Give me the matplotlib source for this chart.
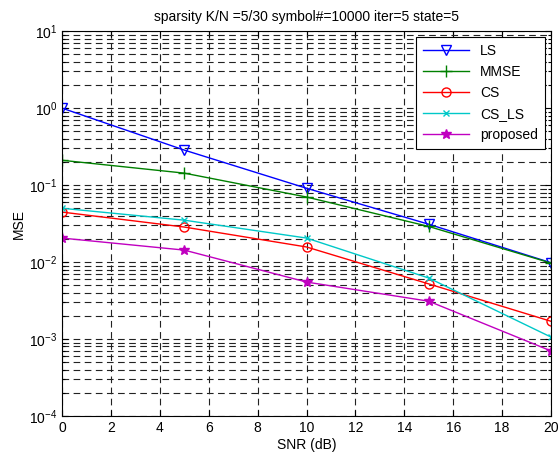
import matplotlib.pyplot as plt
import numpy as np
from matplotlib.ticker import LogLocator, NullFormatter, MultipleLocator

plt.rcParams['font.family'] = ['Liberation Sans', 'DejaVu Sans']

snr = [0, 5, 10, 15, 20]
mse_ls = [1.0, 0.285, 0.091, 0.031, 0.0098]
mse_mmse = [0.21, 0.143, 0.070, 0.029, 0.0097]
mse_cs = [0.0446, 0.0285, 0.0157, 0.0052, 0.0017]
mse_csls = [0.050, 0.035, 0.0205, 0.0062, 0.00106]
mse_prop = [0.0205, 0.0143, 0.0055, 0.0031, 0.0007]

fig = plt.figure(figsize=(5.6, 4.58), dpi=100)
ax = fig.add_axes([0.1107, 0.0917, 0.8733, 0.8403])

ax.semilogy(snr, mse_ls, color='b', marker='v', mfc='none', ms=7, lw=1, label='LS')
ax.semilogy(snr, mse_mmse, color='#008000', marker='+', ms=8, lw=1, label='MMSE')
ax.semilogy(snr, mse_cs, color='r', marker='o', mfc='none', ms=6.5, lw=1, label='CS')
ax.semilogy(snr, mse_csls, color='#00c8c8', marker='x', ms=4, lw=1, label='CS_LS')
ax.semilogy(snr, mse_prop, color='#c000c0', marker='*', ms=7, lw=1, label='proposed')

ax.set_xlim(0, 20)
ax.set_ylim(1e-4, 1e1)
ax.xaxis.set_major_locator(MultipleLocator(2))
ax.yaxis.set_major_locator(LogLocator(base=10, numticks=10))
ax.yaxis.set_minor_locator(LogLocator(base=10, subs=np.arange(2, 10), numticks=20))
ax.yaxis.set_minor_formatter(NullFormatter())

ax.grid(True, which='major', axis='both', color='#222222', linestyle=(0, (6, 4)), lw=0.8)
ax.grid(True, which='minor', axis='y', color='#222222', linestyle=(0, (6, 4)), lw=0.8)

ax.tick_params(which='both', direction='in', top=True, right=True, labelsize=10, width=0.8)
ax.tick_params(which='major', length=4)
ax.tick_params(which='minor', length=2)
for s in ax.spines.values():
    s.set_linewidth(0.8)

ax.set_xlabel('SNR (dB)', fontsize=10, labelpad=2)
ax.set_ylabel('MSE', fontsize=10, labelpad=2)
ax.set_title('sparsity K/N =5/30 symbol#=10000 iter=5 state=5', fontsize=10, pad=7)

leg = ax.legend(loc='upper right', fontsize=10, fancybox=False, framealpha=1,
                edgecolor='black', borderaxespad=0.45, handlelength=3.3,
                labelspacing=0.5, borderpad=0.5)
leg.get_frame().set_linewidth(0.8)

fig.savefig('out.png', dpi=100)
